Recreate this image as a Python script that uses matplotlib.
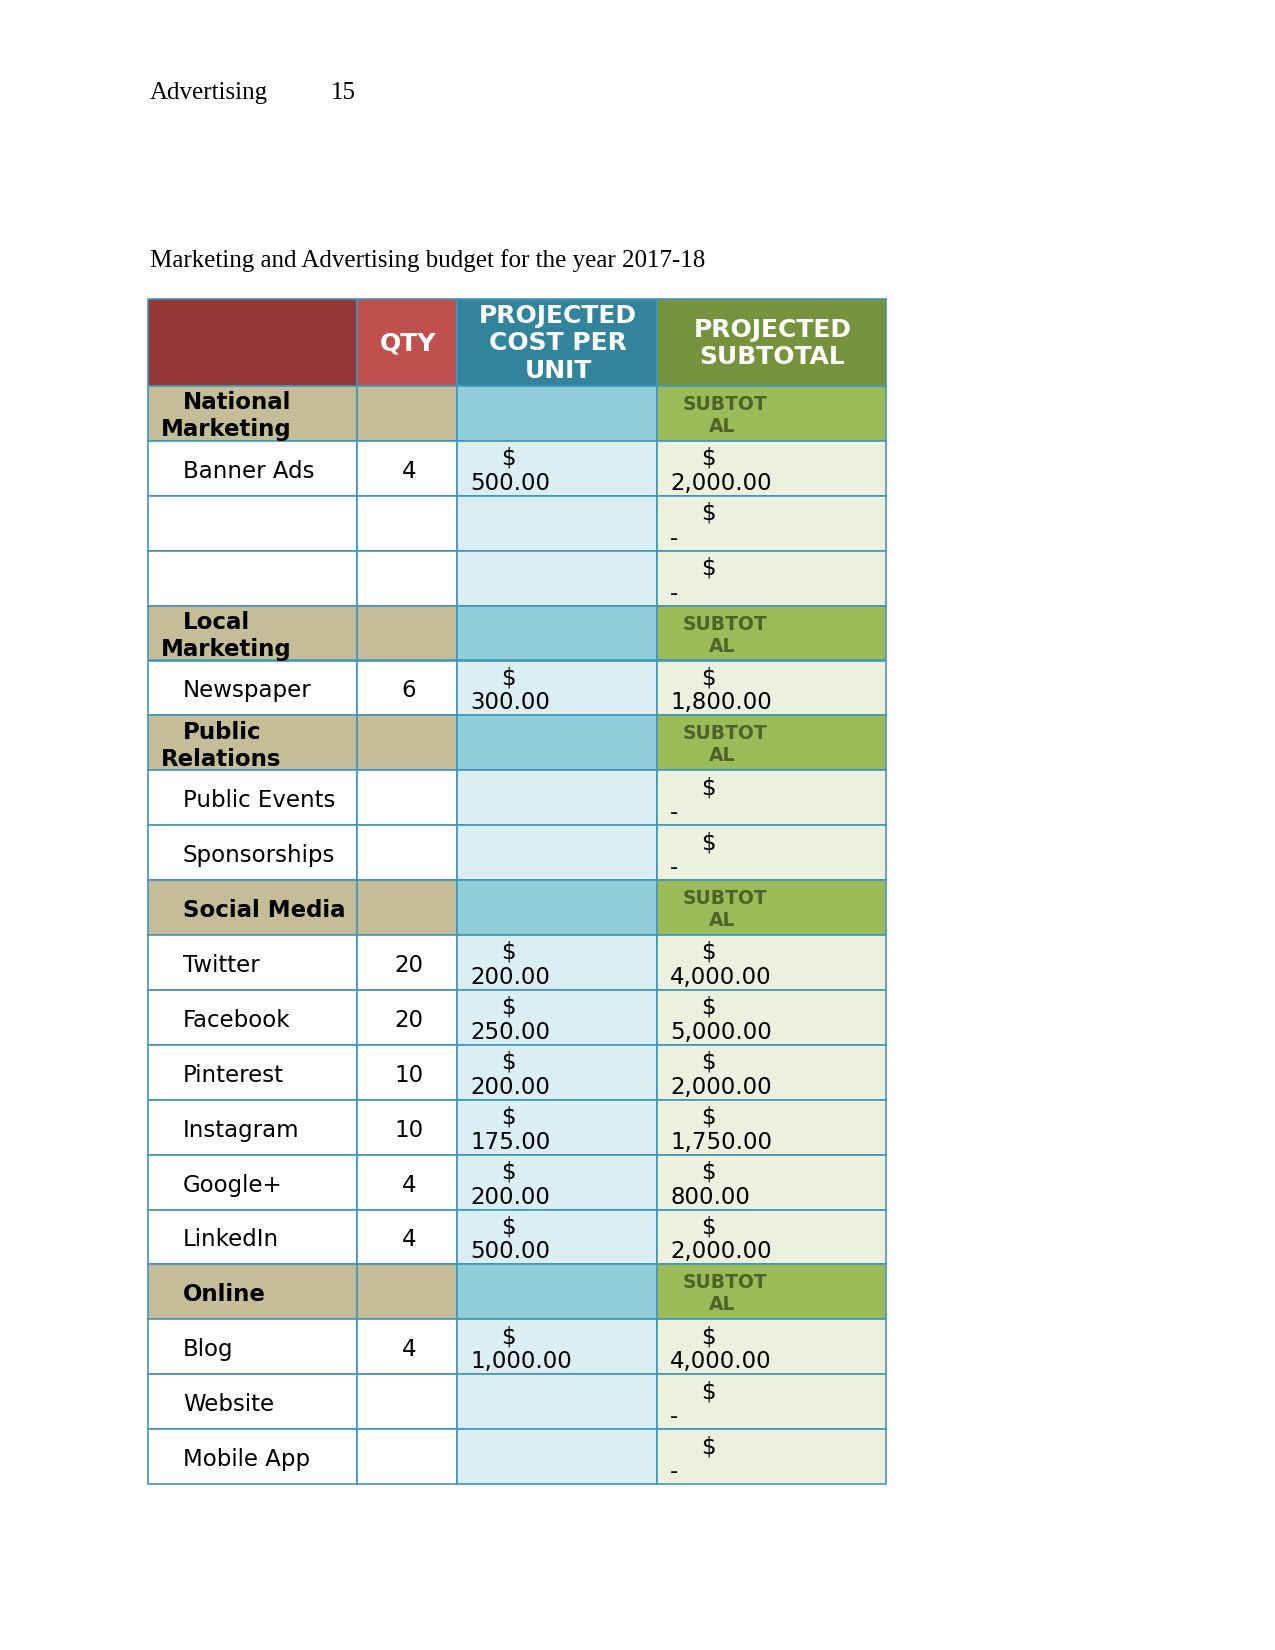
import matplotlib.pyplot as plt
from matplotlib.patches import Rectangle

# ---- data ----
row_labels = ["National\nMarketing", "Banner Ads", "", "", "Local\nMarketing", "Newspaper",
              "Public\nRelations", "Public Events", "Sponsorships", "Social Media",
              "Twitter", "Facebook", "Pinterest", "Instagram", "Google+", "LinkedIn",
              "Online", "Blog", "Website", "Mobile App"]
is_section = [True, False, False, False, True, False, True, False, False, True,
              False, False, False, False, False, False, True, False, False, False]
qty = [None, 4, None, None, None, 6, None, None, None, None,
       20, 20, 10, 10, 4, 4, None, 4, None, None]
cost_per_unit = [None, 500, None, None, None, 300, None, None, None, None,
                 200, 250, 200, 175, 200, 500, None, 1000, None, None]
subtotal = [None, 2000, 0, 0, None, 1800, None, 0, 0, None,
            4000, 5000, 2000, 1750, 800, 2000, None, 4000, 0, 0]
headers = ["", "QTY", "PROJECTED\nCOST PER\nUNIT", "PROJECTED\nSUBTOTAL"]

# ---- layout / style ----
col_edges = [148, 357, 457, 657, 886]
header_top, header_bot = 299, 386
row_h = (1484 - header_bot) / len(row_labels)
header_colors = ["#953735", "#c0504d", "#31849b", "#76923c"]
section_colors = ["#c4bd97", "#c4bd97", "#92cddc", "#9bbb59"]
item_colors = ["#ffffff", "#ffffff", "#dbeef3", "#ebf1de"]
line_color = "#4296b8"
sans = "DejaVu Sans"
serif = "Liberation Serif"
dy = 3  # text sits a little below the cell centre

fig = plt.figure(figsize=(8.5, 11), dpi=150)
ax = fig.add_axes([0, 0, 1, 1])
ax.set_xlim(0, 1275)
ax.set_ylim(1650, 0)
ax.axis("off")

ax.text(150, 99, "Advertising", fontsize=12, family=serif, va="baseline")
ax.text(331, 99, "15", fontsize=12, family=serif, va="baseline")
ax.text(150, 267, "Marketing and Advertising budget for the year 2017-18",
        fontsize=12, family=serif, va="baseline")


def cell(c, y0, h, color):
    ax.add_patch(Rectangle((col_edges[c], y0), col_edges[c + 1] - col_edges[c], h,
                           facecolor=color, edgecolor=line_color, linewidth=0.8))


def money(v):
    return "-" if v == 0 else f"{v:,.2f}"


# header
for c, (hdr, col) in enumerate(zip(headers, header_colors)):
    cell(c, header_top, header_bot - header_top, col)
    xc = (col_edges[c] + col_edges[c + 1]) / 2 + 1
    ax.text(xc, (header_top + header_bot) / 2 + 1, hdr, color="white", fontsize=12,
            fontweight="bold", family=sans, ha="center", va="center", linespacing=1.2)

# body
for i, label in enumerate(row_labels):
    y0 = header_bot + i * row_h
    yc = y0 + row_h / 2 + dy
    colors = section_colors if is_section[i] else item_colors
    for c in range(4):
        cell(c, y0, row_h, colors[c])

    if is_section[i]:
        lines = label.split("\n")
        if len(lines) == 1:
            ax.text(183, yc, label, fontsize=11, fontweight="bold", family=sans,
                    ha="left", va="center")
        else:
            ax.text(183, yc - 13.5, lines[0], fontsize=11, fontweight="bold", family=sans,
                    ha="left", va="center")
            ax.text(161, yc + 13.5, lines[1], fontsize=11, fontweight="bold", family=sans,
                    ha="left", va="center")
        ax.text(725, yc - 12, "SUBTOT", fontsize=9, fontweight="bold", color="#4f6228",
                family=sans, ha="center", va="center")
        ax.text(722, yc + 10, "AL", fontsize=9, fontweight="bold", color="#4f6228",
                family=sans, ha="center", va="center")
        continue

    if label:
        ax.text(183, yc, label, fontsize=11, family=sans, ha="left", va="center")
    if qty[i] is not None:
        ax.text((col_edges[1] + col_edges[2]) / 2 + 2, yc, str(qty[i]), fontsize=11,
                family=sans, ha="center", va="center")
    if cost_per_unit[i] is not None:
        ax.text(col_edges[2] + 44, yc - 13, "$", fontsize=11, family=sans,
                ha="left", va="center")
        ax.text(col_edges[2] + 13, yc + 12, money(cost_per_unit[i]), fontsize=11,
                family=sans, ha="left", va="center")
    if subtotal[i] is not None:
        ax.text(col_edges[3] + 44, yc - 13, "$", fontsize=11, family=sans,
                ha="left", va="center")
        ax.text(col_edges[3] + 13, yc + 12, money(subtotal[i]), fontsize=11,
                family=sans, ha="left", va="center")

fig.savefig("out.png", dpi=150)
